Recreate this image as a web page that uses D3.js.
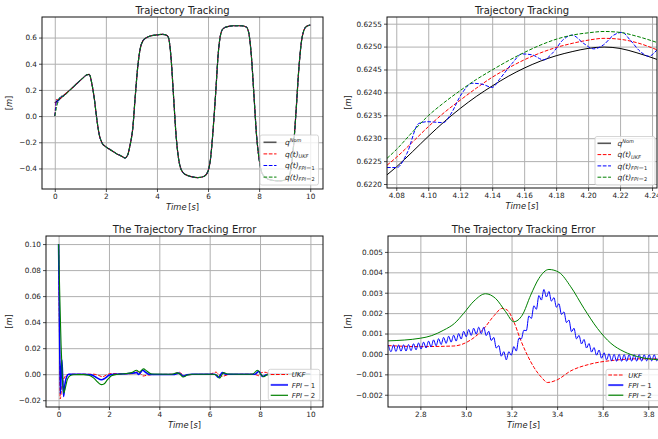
<!DOCTYPE html>
<html>
<head>
<meta charset="utf-8">
<script src="https://cdn.jsdelivr.net/npm/d3@7"></script>
<style>
  body { margin: 0; background: #fff; }
  svg { display: block; font-family: 'DejaVu Sans', sans-serif; }
</style>
</head>
<body>
<div class="container"></div>
<script>
// ---- top left: nominal trajectory q(t) over 0..10 s
const nomT = [0, 0.05, 0.1, 0.3, 0.6, 0.9, 1.1, 1.25, 1.35, 1.45, 1.55, 1.65, 1.75, 1.85, 2.0, 2.2, 2.4, 2.6, 2.75, 2.85,
  2.95, 3.05, 3.15, 3.25, 3.35, 3.45, 3.6, 3.8, 4.0, 4.2, 4.35, 4.45, 4.55, 4.65, 4.75, 4.85, 4.95, 5.1, 5.3, 5.6,
  5.85, 6.0, 6.1, 6.2, 6.3, 6.4, 6.5, 6.6, 6.8, 7.0, 7.3, 7.5, 7.6, 7.7, 7.8, 7.9, 8.0, 8.1, 8.25, 8.5,
  8.8, 9.1, 9.25, 9.35, 9.45, 9.55, 9.65, 9.75, 9.85, 10.0];
const nomQ = [0.10, 0.108, 0.115, 0.15, 0.20, 0.255, 0.29, 0.315, 0.318, 0.25, 0.13, -0.03, -0.15, -0.205, -0.235, -0.26, -0.285, -0.305, -0.32, -0.30,
  -0.22, -0.10, 0.15, 0.38, 0.52, 0.575, 0.60, 0.615, 0.62, 0.625, 0.62, 0.60, 0.45, 0.15, -0.15, -0.33, -0.41, -0.445, -0.46, -0.47,
  -0.46, -0.42, -0.32, -0.10, 0.18, 0.48, 0.63, 0.67, 0.685, 0.69, 0.69, 0.68, 0.63, 0.45, 0.15, -0.15, -0.33, -0.43, -0.47, -0.49,
  -0.495, -0.48, -0.40, -0.22, 0.05, 0.35, 0.56, 0.655, 0.685, 0.695];
// estimates start at 0 and join the nominal curve after ~0.3 s
const ukfStartT = [0, 0.03, 0.06, 0.1, 0.15, 0.2];
const ukfStartQ = [0, 0.07, 0.125, 0.127, 0.126, 0.132];
const fpi1StartT = [0, 0.035, 0.07, 0.1, 0.13, 0.165, 0.2, 0.25];
const fpi1StartQ = [0, 0.066, 0.123, 0.117, 0.101, 0.128, 0.147, 0.148];
const fpi2StartT = [0, 0.03, 0.06, 0.1, 0.14, 0.2, 0.26];
const fpi2StartQ = [0, 0.03, 0.058, 0.093, 0.12, 0.144, 0.153];

// ---- top right: zoom 4.07..4.24 s
const zoomT = [4.0742, 4.08, 4.09, 4.10, 4.11, 4.12, 4.13, 4.14, 4.15, 4.16, 4.17, 4.18, 4.19, 4.20, 4.21, 4.22, 4.23, 4.2431];
const zoomNom = [0.62220, 0.62237, 0.62270, 0.62304, 0.62336, 0.62365, 0.62391, 0.62414, 0.62435, 0.62453, 0.62468, 0.62480, 0.62489, 0.62496, 0.62499, 0.62496, 0.62487, 0.62472];
const zoomUkf = [0.62241, 0.62258, 0.62291, 0.62325, 0.62356, 0.62383, 0.62409, 0.62433, 0.62453, 0.62471, 0.62486, 0.62498, 0.62507, 0.62514, 0.62518, 0.62516, 0.62509, 0.62493];
const zoomFpi2 = [0.62256, 0.62275, 0.62313, 0.62349, 0.62378, 0.62404, 0.62428, 0.62449, 0.62469, 0.62487, 0.62503, 0.62516, 0.62525, 0.62530, 0.62533, 0.62531, 0.62523, 0.62509];
const zoomFpi1T = [4.0742, 4.0804, 4.0867, 4.094, 4.0992, 4.1096, 4.1138, 4.1211, 4.1274, 4.1336, 4.14, 4.1451, 4.1524, 4.1587,
  4.1649, 4.1722, 4.1775, 4.1847, 4.19, 4.1972, 4.2035, 4.2097, 4.216, 4.2212, 4.2264, 4.2327, 4.2379, 4.2431];
const zoomFpi1 = [0.62236, 0.62236, 0.62267, 0.62332, 0.62336, 0.62334, 0.62351, 0.62398, 0.62420, 0.62418, 0.62411, 0.62431, 0.62463, 0.62484,
  0.62482, 0.62471, 0.62485, 0.62516, 0.62525, 0.62507, 0.62495, 0.62504, 0.62525, 0.62531, 0.62514, 0.62489, 0.62479, 0.62493];

// ---- bottom left: tracking error 0..10 s
const errUkfT = [0, 0.03, 0.065, 0.12, 0.18, 0.25, 0.35, 0.5, 1.0, 1.4, 1.6, 1.75, 1.9, 2.1, 2.5, 2.9, 3.05, 3.15, 3.25, 3.35, 3.5, 3.7,
  4.5, 4.7, 4.8, 4.9, 5.0, 5.1, 5.3, 6.0, 6.15, 6.25, 6.35, 6.5, 6.65, 6.8, 7.7, 7.85, 7.95, 8.05, 8.2, 8.4, 9.2, 9.4, 9.5, 9.6, 9.8, 10];
const errUkf = [0.1, 0.04, -0.019, -0.011, -0.005, -0.002, -0.0003, 0, 0, 0, -0.001, -0.002, -0.0005, 0.0005, 0.0003, 0.0004, 0.001, 0.0022, 0.0005, -0.0014, -0.0008, -0.0003,
  0, 0.001, 0.0015, 0, -0.0012, -0.0008, -0.0002, 0, 0.001, 0.0016, 0, -0.0017, -0.0008, -0.0002, 0, -0.0005, -0.0012, 0.0012, 0.0015, 0.0002, 0, 0.001, 0, -0.001, 0, 0];
const errFpi1T = [0, 0.035, 0.07, 0.1, 0.13, 0.165, 0.2, 0.25, 0.32, 0.4, 0.6, 1.0, 1.3, 1.5, 1.7, 1.85, 2.0, 2.2, 2.7, 3.0, 3.1, 3.18, 3.34, 3.45, 3.6, 3.8,
  4.6, 4.75, 4.85, 4.95, 5.1, 5.3, 6.2, 6.35, 6.5, 6.65, 7.8, 7.95, 8.1, 8.25, 8.4, 9.3, 9.45, 9.6, 9.8, 10];
const errFpi1 = [0.1, 0.04, -0.015, -0.002, 0.011, -0.004, -0.017, -0.008, -0.002, 0, 0, 0, -0.0005, -0.0025, -0.0043, -0.003, -0.0008, 0, 0.0003, 0.001, 0.0012, -0.0002, 0.003, 0.0015, -0.0001, -0.0002,
  -0.0002, 0.0008, 0.0001, -0.0015, -0.0004, 0, 0, -0.0025, 0.0012, 0, 0, 0.0022, -0.0018, -0.0004, 0, 0, 0.001, -0.001, 0, 0];
const errFpi2T = [0, 0.03, 0.06, 0.1, 0.14, 0.2, 0.26, 0.35, 0.45, 0.6, 0.8, 1.0, 1.2, 1.4, 1.55, 1.7, 1.8, 1.95, 2.1, 2.3, 2.6, 2.9, 3.1, 3.2, 3.37, 3.5, 3.7,
  4.5, 4.7, 4.8, 4.95, 5.1, 5.3, 6.1, 6.3, 6.4, 6.55, 6.7, 7.7, 7.9, 8.05, 8.15, 8.3, 9.3, 9.45, 9.6, 9.8, 10];
const errFpi2 = [0.1, 0.075, 0.05, 0.022, 0.002, -0.0145, -0.011, -0.004, -0.0012, -0.0004, -0.0003, -0.0003, -0.0008, -0.003, -0.006, -0.008, -0.0075, -0.004, -0.0012, -0.0002, 0.0004, 0.0012, 0.003, 0.0016, 0.0041, 0.0025, 0.0001,
  0, 0.001, 0.0004, -0.0022, -0.0008, 0, 0, -0.001, -0.003, 0.0012, 0.0002, 0, 0.003, -0.0005, -0.002, -0.0003, 0, 0.0015, -0.0015, 0, 0];

// ---- bottom right: error zoom 2.66..3.85 s
const zErrUkfT = [2.658, 2.8, 2.947, 3.02, 3.079, 3.123, 3.159, 3.181, 3.21, 3.24, 3.269, 3.299, 3.335, 3.357, 3.4, 3.46, 3.548, 3.65, 3.753, 3.848];
const zErrUkf = [0.00041, 0.00036, 0.00039, 0.00068, 0.00125, 0.00187, 0.00223, 0.00215, 0.00158, 0.00068, -0.00005, -0.00067, -0.00119, -0.0014, -0.00127, -0.00083, -0.00049, -0.00031, -0.00024, -0.00024];
const zErrFpi2T = [2.658, 2.8, 2.85, 2.903, 2.95, 2.99, 3.035, 3.086, 3.13, 3.174, 3.21, 3.247, 3.284, 3.32, 3.364, 3.408, 3.46, 3.518, 3.577, 3.636, 3.694, 3.753, 3.848];
const zErrFpi2 = [0.00064, 0.00077, 0.0009, 0.00117, 0.0015, 0.00199, 0.00259, 0.00295, 0.00272, 0.00207, 0.00158, 0.0019, 0.00288, 0.0037, 0.00414, 0.004, 0.00329, 0.00223, 0.00125, 0.00052, 0.00011, -0.00013, -0.00029];
// FPI-1 oscillates; values read peak/trough every 0.011 s from 2.66 s
const zErrFpi1T0 = 2.66, zErrFpi1Dt = 0.011;
const zErrFpi1 = [0.00043, 0.00011, 0.00044, 0.00012, 0.00044, 0.00013, 0.00045, 0.00014, 0.00046, 0.00016,
  0.0005, 0.0002, 0.00054, 0.00024, 0.00058, 0.00029, 0.00063, 0.00034, 0.00069, 0.0004,
  0.00075, 0.00046, 0.00081, 0.00052, 0.00087, 0.00058, 0.00092, 0.00063, 0.001, 0.00073,
  0.00111, 0.00084, 0.0012, 0.00091, 0.00126, 0.00097, 0.00131, 0.00099, 0.00131, 0.0009,
  0.00111, 0.00066, 0.00081, 0.00029, 0.00041, -0.00011, 0.00011, -0.00029, 0.00011, -0.00006,
  0.00036, 0.00014, 0.00076, 0.00074, 0.00116, 0.00114, 0.00186, 0.00174, 0.00236, 0.00219,
  0.00286, 0.00264, 0.00316, 0.00279, 0.00306, 0.00259, 0.00276, 0.00229, 0.00246, 0.00194,
  0.00206, 0.00154, 0.00166, 0.00109, 0.00126, 0.00074, 0.00091, 0.00049, 0.00071, 0.00029,
  0.00051, 0.00009, 0.00031, -0.00006, 0.00019, -0.00021, 0.00006, -0.00029, 0.00001, -0.00034,
  -0.00002, -0.00036, -0.00002, -0.00036, -0.00003, -0.00036, -0.00003, -0.00035, -0.00003, -0.00035,
  -0.00003, -0.00035, -0.00004, -0.00034, -0.00004, -0.00034, -0.00004, -0.00034, -0.00005];

// ---- ticks
const tlXTicks = [0, 2, 4, 6, 8, 10];
const tlYTicks = [-0.4, -0.2, 0, 0.2, 0.4, 0.6];
const trXTicks = [4.08, 4.10, 4.12, 4.14, 4.16, 4.18, 4.20, 4.22, 4.24];
const trYTicks = [0.6220, 0.6225, 0.6230, 0.6235, 0.6240, 0.6245, 0.6250, 0.6255];
const blYTicks = [-0.02, 0, 0.02, 0.04, 0.06, 0.08, 0.10];
const brXTicks = [2.8, 3.0, 3.2, 3.4, 3.6, 3.8];
const brYTicks = [-0.002, -0.001, 0, 0.001, 0.002, 0.003, 0.004, 0.005];

const svg = d3.select('.container').append('svg').attr('width', 658).attr('height', 439);
const txt = '#222';

function panel(p) {
  let x = d3.scaleLinear().domain(p.xDomain).range([p.x0, p.x1]);
  let y = d3.scaleLinear().domain(p.yDomain).range([p.y1, p.y0]);
  let g = svg.append('g');

  // grid
  g.append('g').attr('transform', 'translate(0,' + p.y1 + ')')
    .call(d3.axisBottom(x).tickValues(p.xTicks).tickSize(-(p.y1 - p.y0)).tickFormat(''))
    .call((s) => s.select('.domain').remove())
    .selectAll('line').attr('stroke', '#b0b0b0').attr('stroke-width', 1);
  g.append('g').attr('transform', 'translate(' + p.x0 + ',0)')
    .call(d3.axisLeft(y).tickValues(p.yTicks).tickSize(-(p.x1 - p.x0)).tickFormat(''))
    .call((s) => s.select('.domain').remove())
    .selectAll('line').attr('stroke', '#b0b0b0').attr('stroke-width', 1);

  svg.append('clipPath').attr('id', 'clip-' + p.id)
    .append('rect').attr('x', p.x0).attr('y', p.y0).attr('width', p.x1 - p.x0).attr('height', p.y1 - p.y0);
  let plot = g.append('g').attr('clip-path', 'url(#clip-' + p.id + ')');

  // axes
  let xAxis = g.append('g').attr('transform', 'translate(0,' + p.y1 + ')')
    .call(d3.axisBottom(x).tickValues(p.xTicks).tickSize(3).tickPadding(2).tickFormat(p.xFmt));
  let yAxis = g.append('g').attr('transform', 'translate(' + p.x0 + ',0)')
    .call(d3.axisLeft(y).tickValues(p.yTicks).tickSize(3).tickPadding(2).tickFormat(p.yFmt));
  [xAxis, yAxis].forEach((a) => {
    a.select('.domain').remove();
    a.selectAll('line').attr('stroke', '#222').attr('stroke-width', 0.8);
    a.selectAll('text').attr('font-size', 7.3).attr('fill', txt).attr('font-family', 'DejaVu Sans');
  });

  let top = g.append('g');
  top.append('rect').attr('x', p.x0).attr('y', p.y0).attr('width', p.x1 - p.x0).attr('height', p.y1 - p.y0)
    .attr('fill', 'none').attr('stroke', '#111').attr('stroke-width', 1);

  let cx = (p.x0 + p.x1) / 2;
  top.append('text').attr('x', cx).attr('y', p.y0 - 3).attr('text-anchor', 'middle')
    .attr('font-size', 10).attr('fill', txt).text(p.title);

  let xl = top.append('text').attr('x', cx).attr('y', p.y1 + 21).attr('text-anchor', 'middle')
    .attr('font-size', 8.3).attr('fill', txt);
  xl.append('tspan').attr('font-style', 'italic').text('Time');
  xl.append('tspan').text('\u2009[');
  xl.append('tspan').attr('font-style', 'italic').text('s');
  xl.append('tspan').text(']');

  let cy = (p.y0 + p.y1) / 2;
  let yl = top.append('text').attr('transform', 'translate(' + (p.ylabelX + 3) + ',' + cy + ') rotate(-90)')
    .attr('text-anchor', 'middle').attr('font-size', 8.3).attr('fill', txt);
  yl.append('tspan').text('[');
  yl.append('tspan').attr('font-style', 'italic').text('m');
  yl.append('tspan').text(']');

  return { x: x, y: y, plot: plot, top: top };
}

function drawLine(pn, pts, color, width, dash) {
  let line = d3.line().x((d) => pn.x(d[0])).y((d) => pn.y(d[1])).curve(d3.curveMonotoneX);
  pn.plot.append('path').datum(pts).attr('d', line)
    .attr('fill', 'none').attr('stroke', color).attr('stroke-width', width)
    .attr('stroke-dasharray', dash ? '3.7,1.6' : null);
}

function richText(sel, x, y, parts) {
  let t = sel.append('text').attr('x', x).attr('y', y).attr('fill', txt);
  let cur = 0;
  parts.forEach((p) => {
    let off = p.off || 0;
    t.append('tspan').attr('dy', off - cur).attr('font-size', p.size)
      .attr('font-style', p.it ? 'italic' : 'normal').text(p.s);
    cur = off;
  });
}

function legend(pn, box, rows) {
  let lg = pn.top.append('g');
  lg.append('rect').attr('x', box.x).attr('y', box.y).attr('width', box.w).attr('height', box.h)
    .attr('rx', 2).attr('fill', '#fff').attr('fill-opacity', 0.8).attr('stroke', '#ccc').attr('stroke-width', 0.8);
  rows.forEach((r, i) => {
    let yy = box.row0 + i * box.step;
    lg.append('line').attr('x1', box.h0).attr('x2', box.h1).attr('y1', yy).attr('y2', yy)
      .attr('stroke', r.color).attr('stroke-width', r.width).attr('stroke-dasharray', r.dash ? '3.7,1.6' : null);
    richText(lg, box.tx, yy + 2.6, r.label);
  });
}

const zip = (ts, vs) => ts.map((t, i) => [t, vs[i]]);

// ================= top left
let tl = panel({ id: 'tl', x0: 42, x1: 323, y0: 17, y1: 189, xDomain: [-0.5, 10.5], yDomain: [-0.557, 0.757],
  xTicks: tlXTicks, yTicks: tlYTicks, xFmt: d3.format('d'), yFmt: d3.format('.1f'), title: 'Trajectory Tracking', ylabelX: 9 });
let nomPts = zip(nomT, nomQ);
let nomTail = nomPts.filter((d) => d[0] >= 0.3);
drawLine(tl, nomPts, '#000', 1.2, false);
drawLine(tl, zip(ukfStartT, ukfStartQ).concat(nomTail), 'red', 1, true);
drawLine(tl, zip(fpi1StartT, fpi1StartQ).concat(nomTail), 'blue', 1, true);
drawLine(tl, zip(fpi2StartT, fpi2StartQ).concat(nomTail), 'green', 1, true);

const qLabels = [
  [{ s: 'q', it: true, size: 7.5 }, { s: 'Nom', it: true, size: 5, off: -3.2 }],
  [{ s: 'q(t)', it: true, size: 7.5 }, { s: 'UKF', it: true, size: 5, off: 1.6 }],
  [{ s: 'q(t)', it: true, size: 7.5 }, { s: 'FPI', it: true, size: 5, off: 1.6 }, { s: '\u2212', size: 6.5, off: 1.6 }, { s: '1', size: 5, off: 1.6 }],
  [{ s: 'q(t)', it: true, size: 7.5 }, { s: 'FPI', it: true, size: 5, off: 1.6 }, { s: '\u2212', size: 6.5, off: 1.6 }, { s: '2', size: 5, off: 1.6 }]
];
const qStyles = [
  { color: '#555', width: 1.6, dash: false },
  { color: 'red', width: 1, dash: true },
  { color: 'blue', width: 1, dash: true },
  { color: 'green', width: 1, dash: true }
];
legend(tl, { x: 260, y: 135, w: 58.5, h: 50, row0: 142.3, step: 11.6, h0: 263.5, h1: 276.5, tx: 285 },
  qStyles.map((s, i) => Object.assign({ label: qLabels[i] }, s)));

// ================= top right
let tr = panel({ id: 'tr', x0: 387, x1: 657, y0: 17, y1: 188, xDomain: [4.0742, 4.2431], yDomain: [0.621913, 0.625646],
  xTicks: trXTicks, yTicks: trYTicks, xFmt: d3.format('.2f'), yFmt: d3.format('.4f'), title: 'Trajectory Tracking', ylabelX: 348 });
drawLine(tr, zip(zoomT, zoomNom), '#000', 1, false);
drawLine(tr, zip(zoomT, zoomUkf), 'red', 1, true);
drawLine(tr, zip(zoomFpi1T, zoomFpi1), 'blue', 1, true);
drawLine(tr, zip(zoomT, zoomFpi2), 'green', 1, true);
legend(tr, { x: 595, y: 136.5, w: 60, h: 48.5, row0: 143.3, step: 11.3, h0: 597.5, h1: 611, tx: 617.5 },
  qStyles.map((s, i) => Object.assign({ label: qLabels[i] }, s)));

// ================= bottom left
const eLabels = [
  [{ s: 'UKF', it: true, size: 7 }],
  [{ s: 'FPI', it: true, size: 7 }, { s: '\u2009\u2212\u20091', size: 7 }],
  [{ s: 'FPI', it: true, size: 7 }, { s: '\u2009\u2212\u20092', size: 7 }]
];
const eStyles = [
  { color: 'red', width: 1, dash: true },
  { color: '#3c3cff', width: 2, dash: false },
  { color: 'green', width: 1.2, dash: false }
];
let bl = panel({ id: 'bl', x0: 46, x1: 323, y0: 236, y1: 407, xDomain: [-0.5, 10.5], yDomain: [-0.0252, 0.1062],
  xTicks: tlXTicks, yTicks: blYTicks, xFmt: d3.format('d'), yFmt: d3.format('.2f'), title: 'The Trajectory Tracking Error', ylabelX: 9 });
drawLine(bl, zip(errUkfT, errUkf), 'red', 1, true);
drawLine(bl, zip(errFpi1T, errFpi1), 'blue', 1.6, false);
drawLine(bl, zip(errFpi2T, errFpi2), 'green', 1.1, false);
legend(bl, { x: 268.3, y: 369.3, w: 51.5, h: 31, row0: 374.5, step: 10.4, h0: 270.7, h1: 288, tx: 291.7 },
  eStyles.map((s, i) => Object.assign({ label: eLabels[i] }, s)));

// ================= bottom right
let br = panel({ id: 'br', x0: 388, x1: 659, y0: 236, y1: 407, xDomain: [2.658, 3.847], yDomain: [-0.0026, 0.00578],
  xTicks: brXTicks, yTicks: brYTicks, xFmt: d3.format('.1f'), yFmt: d3.format('.3f'), title: 'The Trajectory Tracking Error', ylabelX: 348 });
drawLine(br, zip(zErrUkfT, zErrUkf), 'red', 1, true);
drawLine(br, zErrFpi1.map((v, i) => [zErrFpi1T0 + i * zErrFpi1Dt, v]), 'blue', 1, false);
drawLine(br, zip(zErrFpi2T, zErrFpi2), 'green', 1, false);
legend(br, { x: 606, y: 369.3, w: 54, h: 31.4, row0: 375, step: 10.1, h0: 608.3, h1: 623.3, tx: 628.3 },
  eStyles.map((s, i) => Object.assign({ label: eLabels[i] }, s)));
</script>
</body>
</html>
